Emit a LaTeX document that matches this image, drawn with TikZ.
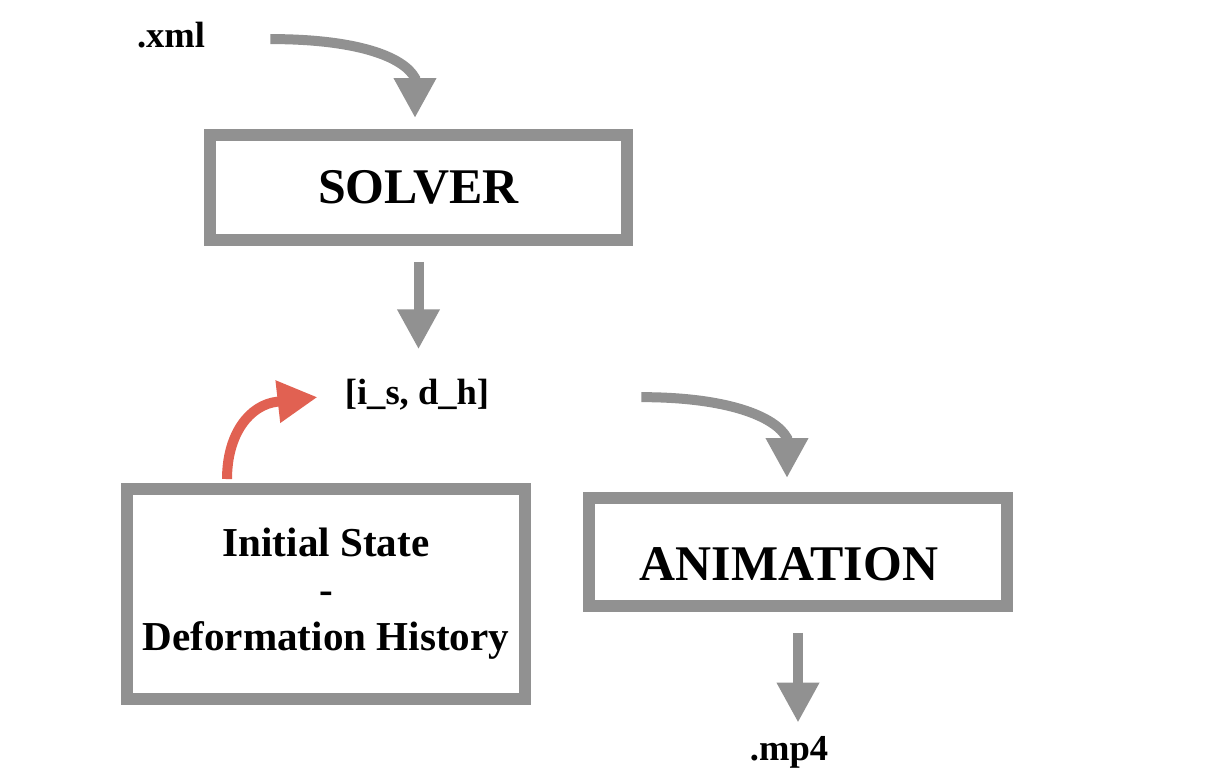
\documentclass[tikz,border=0pt]{standalone}
\usepackage{fontspec}
\setmainfont{Liberation Serif}
\usepackage{tikz}
\usetikzlibrary{arrows.meta}
\definecolor{boxgray}{RGB}{145,145,145}
\definecolor{arrowred}{RGB}{225,97,82}

\begin{document}
\begin{tikzpicture}[x=0.02cm, y=-0.02cm,
    box_node/.style={draw=boxgray, line width=0.24cm, inner sep=0pt},
    big_text/.style={font=\fontsize{28.4}{33}\selectfont\bfseries},
    file_node/.style={inner sep=0pt, font=\fontsize{20.8}{25}\selectfont\bfseries},
    flow/.style={draw=boxgray, line width=0.2cm, -{Triangle[length=0.8cm, width=0.8cm]}}]

    \useasboundingbox (0, 0) rectangle (1206, 783);

    \node[file_node, anchor=base] (xml) at (171, 48) {.xml};
    \node[box_node, big_text, minimum width=8.34cm, minimum height=2.1cm] (solver) at (418.5, 187.5) {SOLVER};
    \node[file_node, anchor=base] (data) at (417, 405) {[i\_s, d\_h]};
    \node[box_node, align=center, font=\fontsize{23.4}{26.7}\selectfont\bfseries,
        minimum width=7.96cm, minimum height=4.2cm] (init) at (326, 594) {Initial State\\-\\Deformation History};
    \node[box_node, minimum width=8.36cm, minimum height=2.16cm,
        label={[big_text, xshift=-0.18cm, yshift=-0.24cm]center:ANIMATION}] (anim) at (798, 552) {};
    \node[file_node, anchor=base] (video) at (789, 760) {.mp4};

    \draw[flow] ([xshift=1.3cm, yshift=-0.07cm]xml.east) .. controls +(85, 0) and +(-12, -22) ..
        ([xshift=-0.07cm, yshift=1.02cm]solver.north) -- ([xshift=-0.07cm, yshift=0.22cm]solver.north);
    \draw[flow, shorten <=0.32cm, shorten >=0.6cm] (solver.south) -- (solver.south |- data.north);
    \draw[flow, draw=arrowred] ([xshift=-1.98cm, yshift=0.08cm]init.north) .. controls +(0, -45) and +(-28, 3) ..
        ([xshift=-1.34cm, yshift=-0.13cm]data.west) -- ([xshift=-0.54cm, yshift=-0.04cm]data.west);
    \draw[flow] ([xshift=3.04cm, yshift=-0.04cm]data.east) .. controls +(85, 0) and +(-12, -22) ..
        ([xshift=-0.22cm, yshift=1.08cm]anim.north) -- ([xshift=-0.22cm, yshift=0.28cm]anim.north);
    \draw[flow, shorten <=0.42cm, shorten >=0.26cm] (anim.south) -- (anim.south |- video.north);
\end{tikzpicture}
\end{document}
